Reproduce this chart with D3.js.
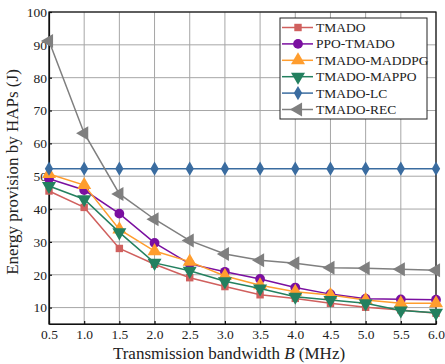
<!DOCTYPE html>
<html>
<head>
<meta charset="utf-8">
<script src="https://cdn.jsdelivr.net/npm/d3@7"></script>
<style>
  body { margin: 0; background: #fff; }
  svg text { font-family: "Liberation Serif", "Times New Roman", serif; fill: #222; }
</style>
</head>
<body>
<script>
// data
var bandwidth = [0.5, 1.0, 1.5, 2.0, 2.5, 3.0, 3.5, 4.0, 4.5, 5.0, 5.5, 6.0];
var seriesNames = ["TMADO", "PPO-TMADO", "TMADO-MADDPG", "TMADO-MAPPO", "TMADO-LC", "TMADO-REC"];
var tmado   = [45.5, 40.5, 28.0, 23.2, 19.1, 16.4, 13.9, 12.8, 11.3, 10.1, 9.3, 8.3];
var ppo     = [49.2, 45.8, 38.6, 29.7, 23.3, 20.9, 18.7, 16.1, 14.1, 12.7, 12.5, 12.4];
var maddpg  = [50.7, 47.3, 33.8, 27.2, 24.0, 19.6, 16.8, 14.8, 13.8, 12.3, 11.3, 11.3];
var mappo   = [47.0, 43.0, 32.9, 23.6, 21.2, 18.0, 15.8, 13.3, 12.3, 11.3, 9.1, 8.4];
var lc      = [52.3, 52.3, 52.3, 52.3, 52.3, 52.3, 52.3, 52.3, 52.3, 52.3, 52.3, 52.3];
var rec     = [91.2, 63.1, 44.6, 36.9, 30.4, 26.3, 24.4, 23.5, 22.1, 22.0, 21.7, 21.4];
var yTicks  = [10, 20, 30, 40, 50, 60, 70, 80, 90, 100];

(function(){
  var width = 445, height = 364;
  var margin = {top: 12, right: 9, bottom: 40, left: 49};
  var serif = "'Liberation Serif', 'Times New Roman', serif";

  var colors = ["#d0605e", "#7a0fa0", "#ff9d2e", "#23805f", "#3a6ca0", "#7f7f7f"];
  var symbols = [d3.symbolSquare, d3.symbolCircle, d3.symbolTriangle, "tri-down", d3.symbolDiamond, "tri-left"];
  var allValues = [tmado, ppo, maddpg, mappo, lc, rec];

  var svg = d3.select("body").append("svg")
    .attr("width", width)
    .attr("height", height);

  var x = d3.scaleLinear().domain([0.5, 6.0]).range([margin.left, width - margin.right]);
  var y = d3.scaleLinear().domain([5, 100]).range([height - margin.bottom, margin.top]);

  // grid lines
  svg.append("g").selectAll("line")
    .data(bandwidth)
    .enter().append("line")
    .attr("x1", function(d){ return x(d); })
    .attr("x2", function(d){ return x(d); })
    .attr("y1", y(5)).attr("y2", y(100))
    .attr("stroke", "#a6a6a6").attr("stroke-width", 1);
  svg.append("g").selectAll("line")
    .data(yTicks)
    .enter().append("line")
    .attr("x1", x(0.5)).attr("x2", x(6.0))
    .attr("y1", function(d){ return y(d); })
    .attr("y2", function(d){ return y(d); })
    .attr("stroke", "#a6a6a6").attr("stroke-width", 1);

  // axes
  var xAxis = d3.axisBottom(x).tickValues(bandwidth).tickFormat(d3.format(".1f")).tickSizeInner(-3).tickSizeOuter(0);
  var yAxis = d3.axisLeft(y).tickValues(yTicks).tickFormat(d3.format("d")).tickSizeInner(-3).tickSizeOuter(0);

  var gx = svg.append("g").attr("transform", "translate(0," + y(5) + ")").call(xAxis)
    .attr("font-family", serif).attr("font-size", 13.5);
  gx.selectAll("text").attr("y", 5).attr("fill", "#222").style("font-size", "13.5px");
  var gy = svg.append("g").attr("transform", "translate(" + x(0.5) + ",0)").call(yAxis)
    .attr("font-family", serif).attr("font-size", 13.5);
  gy.selectAll("text").attr("x", -2).attr("fill", "#222").style("font-size", "13.5px");
  svg.selectAll(".domain, .tick line").attr("stroke", "#111").attr("stroke-width", 1.2);

  // frame top and right
  svg.append("rect")
    .attr("x", x(0.5)).attr("y", y(100))
    .attr("width", x(6.0) - x(0.5)).attr("height", y(5) - y(100))
    .attr("fill", "none").attr("stroke", "#111").attr("stroke-width", 1.2);

  function markerPath(s, size){
    if (s === "tri-down" || s === "tri-left") return d3.symbol().type(d3.symbolTriangle).size(size)();
    return d3.symbol().type(s).size(size)();
  }
  function markerRotate(s){
    if (s === "tri-down") return " rotate(180)";
    if (s === "tri-left") return " rotate(-90)";
    return "";
  }
  var sizes = [55, 75, 85, 85, 60, 85];

  var line = d3.line()
    .x(function(d, i){ return x(bandwidth[i]); })
    .y(function(d){ return y(d); });

  allValues.forEach(function(vals, k){
    svg.append("path")
      .datum(vals)
      .attr("d", line)
      .attr("fill", "none")
      .attr("stroke", colors[k])
      .attr("stroke-width", 1.5);
    svg.append("g").selectAll("path")
      .data(vals)
      .enter().append("path")
      .attr("d", markerPath(symbols[k], sizes[k]))
      .attr("transform", function(d, i){
        return "translate(" + x(bandwidth[i]) + "," + y(d) + ")" + markerRotate(symbols[k]);
      })
      .attr("fill", colors[k]);
  });

  // legend
  var legend = svg.append("g").attr("transform", "translate(280,18)");
  legend.append("rect")
    .attr("width", 147).attr("height", 101)
    .attr("fill", "#fff").attr("stroke", "#222").attr("stroke-width", 1);
  seriesNames.forEach(function(name, k){
    var ly = 9.5 + k * 16.4;
    legend.append("line")
      .attr("x1", 2).attr("x2", 33).attr("y1", ly).attr("y2", ly)
      .attr("stroke", colors[k]).attr("stroke-width", 1.5);
    legend.append("path")
      .attr("d", markerPath(symbols[k], sizes[k]))
      .attr("transform", "translate(18," + ly + ")" + markerRotate(symbols[k]))
      .attr("fill", colors[k]);
    legend.append("text")
      .attr("x", 36).attr("y", ly + 4.5)
      .style("font-size", "13.5px")
      .text(name);
  });

  // axis titles
  var xt = svg.append("text")
    .attr("x", 229)
    .attr("y", 359)
    .attr("text-anchor", "middle")
    .style("font-size", "17px");
  xt.append("tspan").text("Transmission bandwidth ");
  xt.append("tspan").style("font-style", "italic").text("B");
  xt.append("tspan").text(" (MHz)");

  svg.append("text")
    .attr("transform", "translate(18,172) rotate(-90)")
    .attr("text-anchor", "middle")
    .style("font-size", "17px")
    .text("Energy provision by HAPs (J)");
})();
</script>
</body>
</html>
